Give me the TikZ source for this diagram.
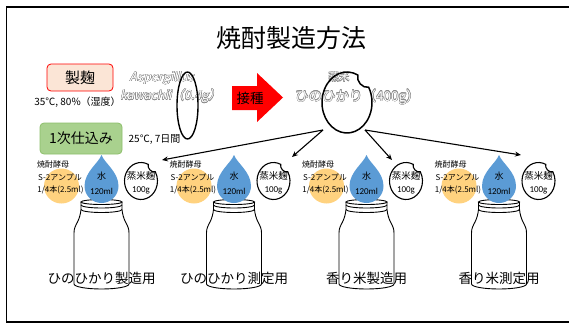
\documentclass[tikz,border=0pt]{standalone}
\usepackage{fontspec}
\setmainfont{Noto Sans CJK JP}
\newfontfamily\calfont{Carlito}
\usetikzlibrary{arrows.meta}

\definecolor{kojipink}{HTML}{FBE5D6}
\definecolor{shikomigreen}{HTML}{A9D18E}
\definecolor{shikomiedge}{HTML}{8CBF6A}
\definecolor{yeastorange}{HTML}{FFD27F}
\definecolor{waterblue}{HTML}{5B9BD5}
\definecolor{haloGrey}{HTML}{8A8A8A}

\newcommand{\fsz}[1]{\fontsize{#1}{#1}\selectfont}

% white text with a thin grey outline: name, x, y, size, slant, text
\newcommand{\hollowtext}[6]{%
  \foreach \ang in {0,30,...,330}{%
    \node[inner sep=0pt, text=haloGrey, font=\fsz{#4}, xslant=#5, shift={(\ang:0.4pt)}]
      at (#2,#3) {#6};}
  \node[inner sep=0pt, text=white, font=\fsz{#4}, xslant=#5] (#1) at (#2,#3) {#6};
}

% milk-bottle style fermentation jar, centred on x = #1
\newcommand{\jar}[1]{%
  \draw[jarline] (#1,202) ellipse[x radius=20.5pt, y radius=2.5pt];
  \draw[jarline] (#1-20.5,205) arc[start angle=180,end angle=360,x radius=20.5pt,y radius=3pt];
  \draw[jarline] (#1-20.5,209.5) arc[start angle=180,end angle=360,x radius=20.5pt,y radius=3pt];
  \draw[jarline] (#1-20.5,202) -- (#1-20.5,209.5)
     .. controls (#1-21,214) and (#1-22,218) .. (#1-24,222)
     .. controls (#1-26,226) and (#1-27.5,228) .. (#1-27.5,233)
     -- (#1-27.5,284)
     arc[start angle=180,end angle=360,x radius=27.5pt,y radius=5pt]
     -- (#1+27.5,233)
     .. controls (#1+27.5,228) and (#1+26,226) .. (#1+24,222)
     .. controls (#1+22,218) and (#1+21,214) .. (#1+20.5,209.5)
     -- (#1+20.5,202);
}

% water drop with its tip at (#1,155)
\newcommand{\waterdrop}[1]{%
  \fill[waterblue] (#1,155)
     .. controls (#1+3,163) and (#1+17,172) .. (#1+17,186)
     arc[start angle=0,end angle=-180,radius=17pt]
     .. controls (#1-17,172) and (#1-3,163) .. (#1,155) -- cycle;
}

% rice grain outline with a small bite: centre (#1,#2), radii #3,#4, width #5
\newcommand{\grain}[5]{%
  \draw[line width=#5] (#1,#2) ++(64:#3pt and #4pt) coordinate (gstart)
     arc[start angle=64,end angle=390,x radius=#3pt,y radius=#4pt]
     to[bend left=60] (gstart) -- cycle;
}

\tikzset{
  jarline/.style={line width=0.9pt},
  flow/.style={line width=1.1pt,-{Stealth[length=6pt,width=5pt]}},
}

\begin{document}
\begin{tikzpicture}[x=1pt,y=-1pt]
\useasboundingbox (0,0) rectangle (569,324);

% frame
\draw[line width=1.9pt] (585,6.7) -- (6.5,6.7) -- (6.5,321.7) -- (585,321.7);

% title
\node[font=\fsz{25}] (title) at (291,38) {焼酎製造方法};

% koji making
\node[draw=red, line width=0.8pt, fill=kojipink, rounded corners=4pt,
      minimum width=66pt, minimum height=27pt, inner sep=0pt, font=\fsz{15}]
      (seikiku) at (80,77.5) {製麹};
\node[font=\fsz{10}, inner sep=0pt] (kojicond) at (77.5,102) {35℃, 80\%（湿度）};

\hollowtext{asp}{162.5}{78}{12.5}{0.22}{Aspergillus}
\hollowtext{kaw}{171.5}{96}{12.5}{0.22}{kawachii（0.4g）}
\hollowtext{mushi}{339}{77}{10.5}{0}{蒸米}
\hollowtext{hino}{357.5}{97}{13.5}{0}{ひのひかり（400g）}

\draw[line width=1.4pt] (187.5,105.5) ellipse[x radius=10.5pt, y radius=33.5pt];

% inoculation arrow
\fill[red] (232,86) -- (257,86) -- (257,73) -- (283,97.5) -- (257,122)
           -- (257,110) -- (232,110) -- cycle;
\node[font=\fsz{13.5}, inner sep=0pt] (sesshu) at (250,98) {接種};

% steamed rice grain
\grain{347}{102.5}{25}{30.5}{1.5pt}

% first mash
\node[draw=shikomiedge, line width=0.8pt, fill=shikomigreen, rounded corners=4pt,
      minimum width=82pt, minimum height=31pt, inner sep=0pt, font=\fsz{14}]
      (shikomi) at (81,138.5) {1次仕込み};
\node[font=\fsz{10}, inner sep=0pt] (shikomicond) at (154.5,139) {25℃, 7日間};

% four mash jars
\foreach \i/\lab in {0/ひのひかり製造用,1/ひのひかり測定用,2/香り米製造用,3/香り米測定用}{
  \pgfmathsetmacro\D{101.5+132.5*\i}
  \jar{\D}
  \fill[yeastorange] (\D-40,186) circle[radius=17.5pt];
  \waterdrop{\D}
  \grain{\D+39.5}{181}{16.5}{18.5}{1.1pt}
  \node[font=\fsz{8}, inner sep=0pt] (kobo\i) at (\D-48.5,164) {焼酎酵母};
  \node[font=\fsz{8}, inner sep=0pt] (amp\i) at (\D-41.5,177) {S-2アンプル};
  \node[font=\fsz{8}, inner sep=0pt] (dose\i) at (\D-41,190) {1/4本(2.5ml)};
  \node[font=\fsz{9}, inner sep=0pt] (mizu\i) at (\D,176) {水};
  \node[font=\calfont\fsz{9}, inner sep=0pt] (vol\i) at (\D,191) {120ml};
  \node[font=\fsz{9.5}, inner sep=0pt] (kome\i) at (\D+39.5,176) {蒸米麹};
  \node[font=\calfont\fsz{9}, inner sep=0pt] (amt\i) at (\D+39.5,190) {100g};
  \node[font=\fsz{13.5}, inner sep=0pt] (use\i) at (\D,278) {\lab};
}

% distribution of the koji
\coordinate (fromL) at (323,130);
\coordinate (fromR) at (365,130);
\coordinate (to0) at (162,160);
\coordinate (to1) at (292,157);
\coordinate (to2) at (392,160);
\coordinate (to3) at (521,155);
\draw[flow] (fromL) -- (to0);
\draw[flow] (fromL) -- (to1);
\draw[flow] (fromR) -- (to2);
\draw[flow] (fromR) -- (to3);
\end{tikzpicture}
\end{document}
